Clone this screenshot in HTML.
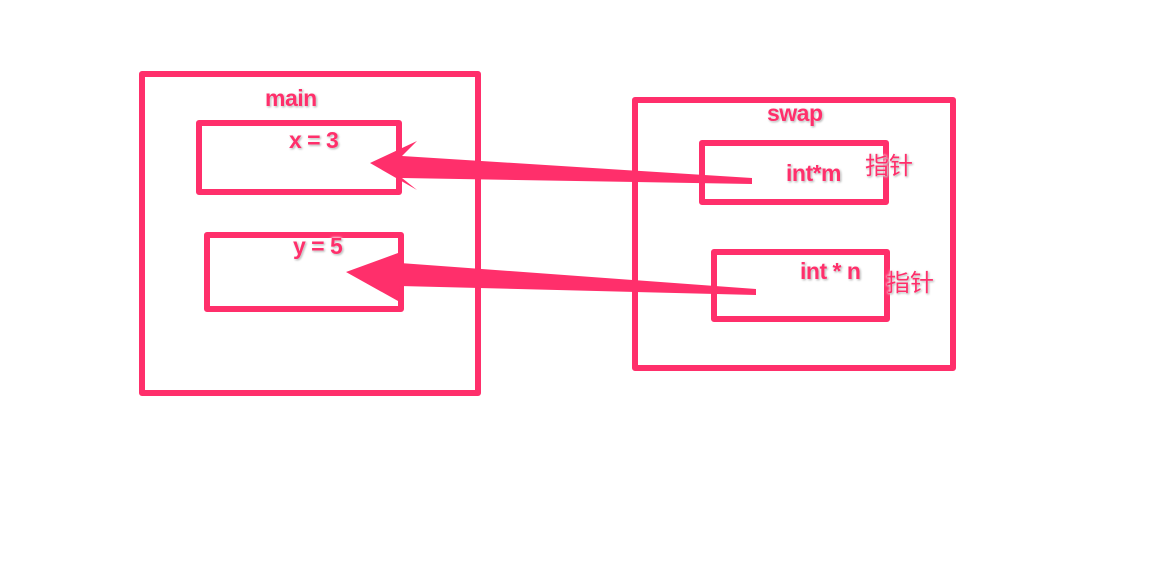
<!DOCTYPE html>
<html><head><meta charset="utf-8"><style>
body{margin:0;width:1170px;height:583px;background:#fff;overflow:hidden;position:relative;font-family:"Liberation Sans","Noto Sans CJK SC",sans-serif}
.b{position:absolute;border:6px solid #ff2f6b;border-radius:3px;box-sizing:border-box}
.t{position:absolute;color:#ff2f6b;font-weight:bold;font-size:23px;letter-spacing:-0.5px;line-height:1;white-space:nowrap;text-shadow:0 0 2px #fff,1px 1px 2px #999,0 0 3px #fff}
.c{font-size:24px;letter-spacing:0;font-weight:normal}
</style></head><body>
<div class="b" style="left:139px;top:71px;width:342px;height:325px"></div>
<div class="b" style="left:196px;top:120px;width:206px;height:75px"></div>
<div class="b" style="left:204px;top:232px;width:200px;height:80px"></div>
<div class="b" style="left:632px;top:97px;width:324px;height:274px"></div>
<div class="b" style="left:699px;top:140px;width:190px;height:65px"></div>
<div class="b" style="left:711px;top:249px;width:179px;height:73px"></div>
<svg width="1170" height="583" style="position:absolute;left:0;top:0">
<polygon fill="#ff2f6b" points="370,163 417,141 402,156 752,178 752,184 402,178 417,190"/>
<polygon fill="#ff2f6b" points="346,272 398,253 400,263 756,289 756,295 400,286 398,301"/>
</svg>
<div class="t" style="left:265px;top:87px">main</div>
<div class="t" style="left:289px;top:129px">x = 3</div>
<div class="t" style="left:293px;top:235px">y = 5</div>
<div class="t" style="left:767px;top:102px">swap</div>
<div class="t" style="left:786px;top:162px">int*m</div>
<div class="t" style="left:800px;top:260px">int * n</div>
<div class="t c" style="left:865px;top:155px">指针</div>
<div class="t c" style="left:886px;top:272px">指针</div>
</body></html>
